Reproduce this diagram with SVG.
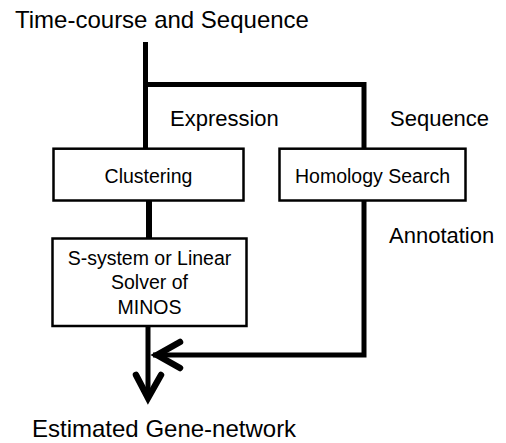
<svg xmlns="http://www.w3.org/2000/svg" width="506" height="443" viewBox="0 0 506 443">
<style>
text{font-family:"Liberation Sans",Arial,sans-serif;fill:#000}
.big{font-size:24px}
.lab{font-size:22px}
.nt{font-size:19.5px;text-anchor:middle}
.box{fill:#fff;stroke:#000;stroke-width:2.5}
.ln{fill:none;stroke:#000;stroke-width:5;stroke-linejoin:miter;stroke-linecap:butt}
.hd{fill:none;stroke:#000;stroke-width:6.5;stroke-linejoin:miter;stroke-linecap:round}
</style>
<rect width="506" height="443" fill="#fff"/>
<g id="connectors">
<path class="ln" d="M145.5 42 V149 M145.5 84.5 H364 V149"/>
<path class="ln" d="M149 200 V239" style="stroke-width:6"/>
<path class="ln" d="M364 200 V355 H153"/>
<path class="hd" d="M180 342 L157 355 L180 368"/>
<path class="ln" d="M148 326 V396"/>
<path class="hd" d="M136 375 L148 398 L161 375"/>
</g>
<g id="title"><text class="big" x="15" y="28">Time-course and Sequence</text></g>
<g id="label-expression"><text class="lab" x="170" y="126">Expression</text></g>
<g id="label-sequence"><text class="lab" x="390" y="126">Sequence</text></g>
<g id="label-annotation"><text class="lab" x="389" y="243">Annotation</text></g>
<g id="clustering">
<rect class="box" x="53.5" y="148.7" width="190" height="51.8"/>
<text class="nt" x="148.5" y="183">Clustering</text>
</g>
<g id="homology">
<rect class="box" x="279.5" y="148.7" width="186" height="51.8"/>
<text class="nt" x="372.5" y="183">Homology Search</text>
</g>
<g id="ssystem">
<rect class="box" x="52.5" y="238.5" width="194" height="87.5"/>
<text class="nt" x="149.5" y="265">S-system or Linear</text>
<text class="nt" x="149.5" y="289">Solver of</text>
<text class="nt" x="149.5" y="314">MINOS</text>
</g>
<g id="output"><text class="big" x="32" y="437">Estimated Gene-network</text></g>
</svg>
